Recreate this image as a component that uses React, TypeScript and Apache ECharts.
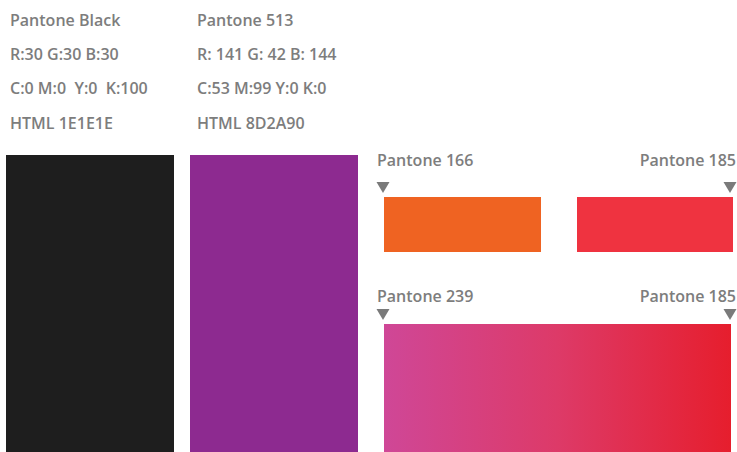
import React, { useEffect, useRef } from "react";
import * as echarts from "echarts";

// Swatch data
const specNames = ["Pantone Black", "Pantone 513"];
const specRGB = ["R:30 G:30 B:30", "R: 141 G: 42 B: 144"];
const specCMYK = ["C:0 M:0  Y:0  K:100", "C:53 M:99 Y:0 K:0"];
const specHTML = ["HTML 1E1E1E", "HTML 8D2A90"];
const specColors = ["#1e1e1e", "#8d2a90"];

const soloNames = ["Pantone 166", "Pantone 185"];
const soloColors = ["#ef6322", "#ef3340"];

const gradientNames = ["Pantone 239", "Pantone 185"];
const gradientColors = ["#cf4797", "#dd3a68", "#e61e2d"];

const TEXT = "#7d7d7d";
const FONT = "'Open Sans', Lato, sans-serif";

export default function App() {
  const ref = useRef<HTMLDivElement>(null);
  useEffect(() => {
    if (!ref.current) return;
    const chart = echarts.init(ref.current, null, { renderer: "svg" });
    const els: any[] = [];
    const txt = (x: number, y: number, s: string, align: string = "left") => ({
      type: "text",
      x,
      y,
      style: {
        text: s,
        fill: TEXT,
        font: `600 16px ${FONT}`,
        textAlign: align,
        textVerticalAlign: "middle",
      },
    });
    const tri = (cx: number, y: number) => ({
      type: "polygon",
      shape: { points: [[cx - 6.5, y], [cx + 6.5, y], [cx, y + 11]] },
      style: { fill: "#7a7a7a" },
    });
    const colX = [10, 197];
    const rectX = [6, 190];
    specNames.forEach((n, i) => {
      els.push(txt(colX[i], 20, n));
      els.push(txt(colX[i], 54, specRGB[i]));
      els.push(txt(colX[i], 88, specCMYK[i]));
      els.push(txt(colX[i], 123, specHTML[i]));
      els.push({
        type: "rect",
        shape: { x: rectX[i], y: 155, width: 168, height: 300 },
        style: { fill: specColors[i] },
      });
    });
    // solo swatches
    els.push(txt(377, 160, soloNames[0]));
    els.push(txt(736, 160, soloNames[1], "right"));
    els.push(tri(383, 182));
    els.push(tri(730, 182));
    els.push({
      type: "rect",
      shape: { x: 384, y: 197, width: 157, height: 55 },
      style: { fill: soloColors[0] },
    });
    els.push({
      type: "rect",
      shape: { x: 577, y: 197, width: 156, height: 55 },
      style: { fill: soloColors[1] },
    });
    // gradient
    els.push(txt(377, 296, gradientNames[0]));
    els.push(txt(736, 296, gradientNames[1], "right"));
    els.push(tri(383, 309));
    els.push(tri(730, 309));
    els.push({
      type: "rect",
      shape: { x: 384, y: 324, width: 347, height: 135 },
      style: {
        fill: new echarts.graphic.LinearGradient(
          0, 0, 1, 0,
          gradientColors.map((c, i) => ({ offset: i / (gradientColors.length - 1), color: c }))
        ),
      },
    });
    chart.setOption({
      animation: false,
      backgroundColor: "#ffffff",
      graphic: { elements: els },
    });
    return () => chart.dispose();
  }, []);
  return (
    <div
      ref={ref}
      style={{ position: "absolute", left: 0, top: 0, width: 737, height: 452 }}
    />
  );
}
